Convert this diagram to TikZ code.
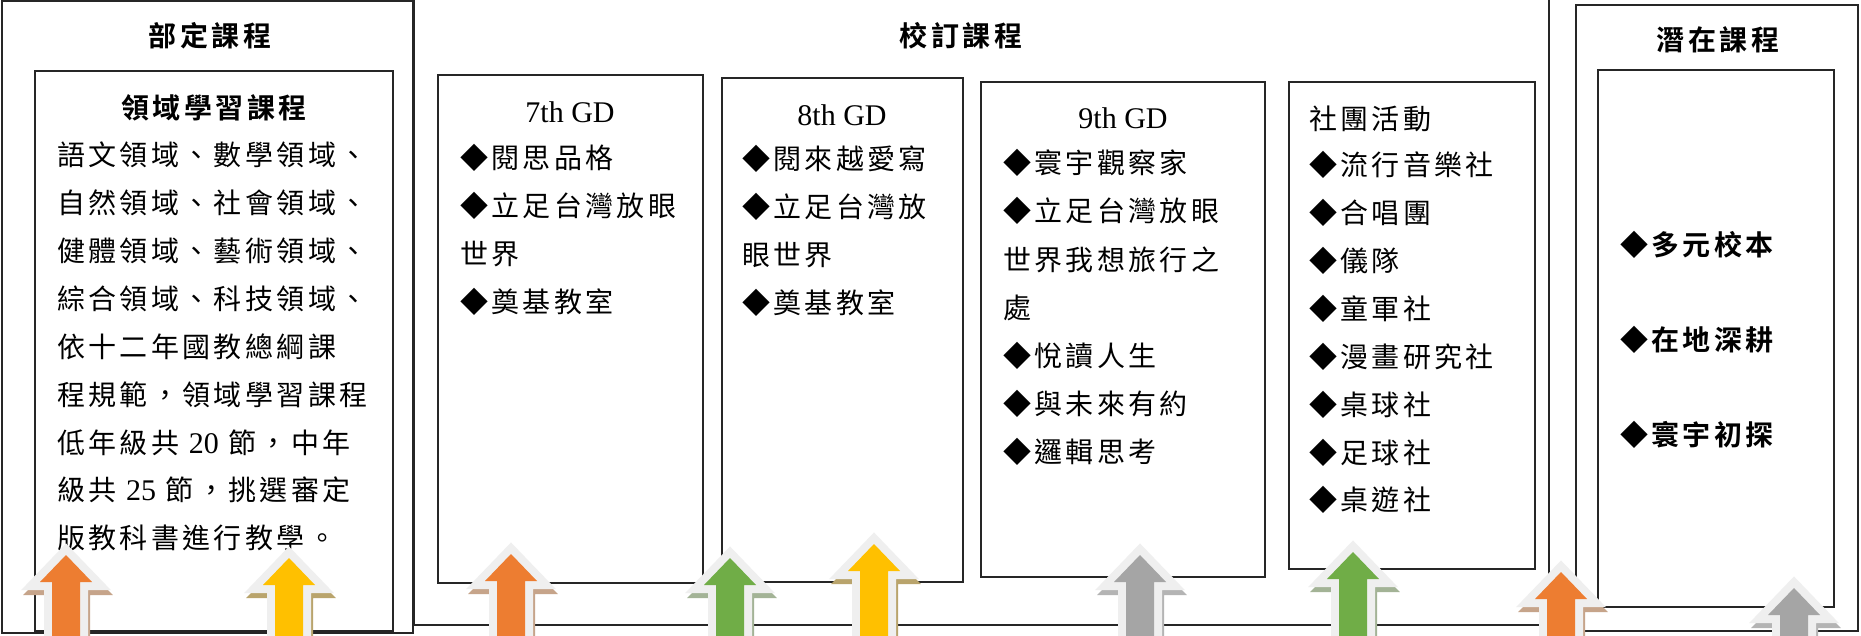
\documentclass[tikz,border=0pt]{standalone}
\usepackage{fontspec}
\newfontfamily\cjk{Noto Sans CJK TC}[LetterSpace=12, BoldFont={Noto Sans CJK TC Bold}]
\newfontfamily\latf{Liberation Serif}
\definecolor{aorange}{HTML}{ED7D31}
\definecolor{ayellow}{HTML}{FFC000}
\definecolor{agreen}{HTML}{70AD47}
\definecolor{agray}{HTML}{A5A5A5}
\definecolor{sorange}{HTML}{C6A48A}
\definecolor{syellow}{HTML}{B9A46C}
\definecolor{sgreen}{HTML}{A3B396}
\definecolor{sgray}{HTML}{B4B4B4}
\definecolor{glowc}{HTML}{EFEFEF}
\newcommand\upblock[4]{%
  \filldraw[#4, line width=16pt, line join=miter, shift={(2,5)}] (#1,#2) -- (#1+26,#2+27) -- (#1+14,#2+27) -- (#1+14,660) -- (#1-14,660) -- (#1-14,#2+27) -- (#1-26,#2+27) -- cycle;
  \filldraw[draw=glowc, fill=glowc, line width=16pt, line join=miter] (#1,#2) -- (#1+26,#2+27) -- (#1+14,#2+27) -- (#1+14,660) -- (#1-14,660) -- (#1-14,#2+27) -- (#1-26,#2+27) -- cycle;
  \fill[#3] (#1,#2) -- (#1+26,#2+27) -- (#1+14,#2+27) -- (#1+14,660) -- (#1-14,660) -- (#1-14,#2+27) -- (#1-26,#2+27) -- cycle;
}
\newcommand\dg[1]{{\latf\fontsize{30}{30}\selectfont #1}}
\tikzset{
  box/.style={draw=black!85, line width=1.2pt},
  txt/.style={inner sep=0pt, anchor=west, font=\cjk\fontsize{28}{30}\selectfont},
  btxt/.style={inner sep=0pt, anchor=west, font=\cjk\bfseries\fontsize{28}{30}\selectfont},
  ttl/.style={inner sep=0pt, font=\cjk\bfseries\fontsize{28}{30}\selectfont},
  gd/.style={inner sep=0pt, font=\latf\fontsize{30}{32}\selectfont},
}
\begin{document}
\begin{tikzpicture}[x=1pt,y=-1pt]
\useasboundingbox (0,0) rectangle (1861,636);
\fill[white] (0,0) rectangle (1861,636);
% boxes
\draw[box] (2,1) rectangle (413,633);
\draw[box] (35,71) rectangle (393,631);
\draw[box] (414,-5) -- (414,625) -- (1549,625) -- (1549,-5);
\draw[box] (438,75) rectangle (703,583);
\draw[box] (722,78) rectangle (963,582);
\draw[box] (981,82) rectangle (1265,577);
\draw[box] (1289,82) rectangle (1535,569);
\draw[box] (1576,5) rectangle (1858,631);
\draw[box] (1598,70) rectangle (1834,607);
% titles
\node[ttl] (t1) at (210,36) {部定課程};
\node[ttl] (t2) at (961,36) {校訂課程};
\node[ttl] (t3) at (1718,40) {潛在課程};
\node[ttl] (t4) at (214,108) {領域學習課程};
\node[gd] (g7) at (570,112) {7th GD};
\node[gd] (g8) at (842,115) {8th GD};
\node[gd] (g9) at (1123,118) {9th GD};
\node[txt] (club) at (1309,119) {社團活動};
% body texts
\foreach \t [count=\i] in {語文領域、數學領域、,自然領域、社會領域、,健體領域、藝術領域、,綜合領域、科技領域、,依十二年國教總綱課,程規範，領域學習課程,{低年級共 \dg{20} 節，中年},{級共 \dg{25} 節，挑選審定},版教科書進行教學。}
  \node[txt] (a\i) at (57,{155+47.9*(\i-1)}) {\t};
\foreach \t [count=\i] in {◆閱思品格,◆立足台灣放眼,世界,◆奠基教室}
  \node[txt] (b\i) at (460,{158+48*(\i-1)}) {\t};
\foreach \t [count=\i] in {◆閱來越愛寫,◆立足台灣放,眼世界,◆奠基教室}
  \node[txt] (c\i) at (742,{159+48*(\i-1)}) {\t};
\foreach \t [count=\i] in {◆寰宇觀察家,◆立足台灣放眼,世界我想旅行之,處,◆悅讀人生,◆與未來有約,◆邏輯思考}
  \node[txt] (d\i) at (1003,{163+48.2*(\i-1)}) {\t};
\foreach \t [count=\i] in {◆流行音樂社,◆合唱團,◆儀隊,◆童軍社,◆漫畫研究社,◆桌球社,◆足球社,◆桌遊社}
  \node[txt] (e\i) at (1309,{165+47.9*(\i-1)}) {\t};
\foreach \t [count=\i] in {◆多元校本,◆在地深耕,◆寰宇初探}
  \node[btxt] (f\i) at (1620,{245+95*(\i-1)}) {\t};
% arrows
\upblock{66}{555}{aorange}{sorange}
\upblock{289}{558}{ayellow}{syellow}
\upblock{511}{554}{aorange}{sorange}
\upblock{730}{558}{agreen}{sgreen}
\upblock{874}{544}{ayellow}{syellow}
\upblock{1140}{555}{agray}{sgray}
\upblock{1353}{552}{agreen}{sgreen}
\upblock{1561}{572}{aorange}{sorange}
\upblock{1794}{588}{agray}{sgray}
\end{tikzpicture}
\end{document}
